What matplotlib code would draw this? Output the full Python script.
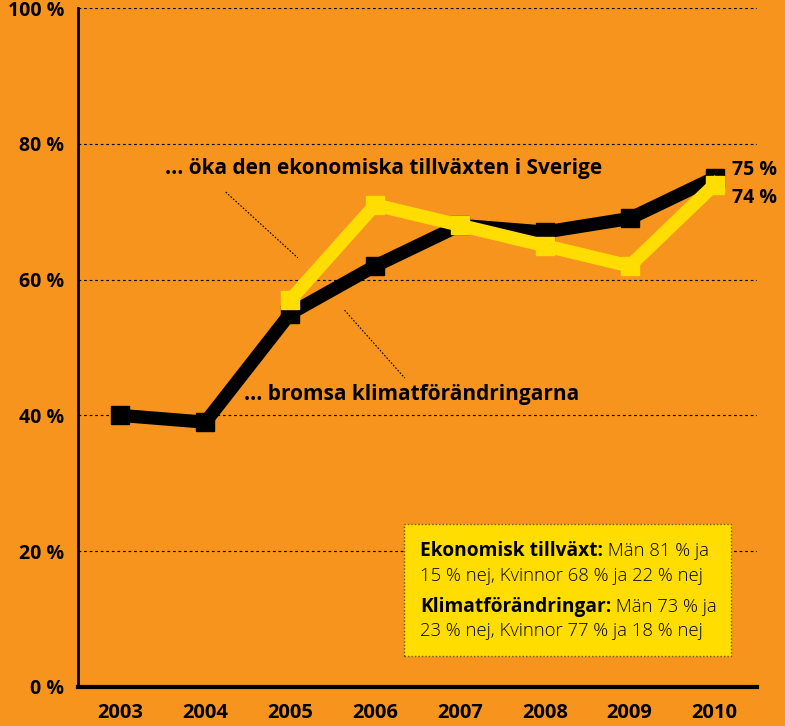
import matplotlib.pyplot as plt
from matplotlib.patches import Rectangle
from matplotlib.text import Annotation

years = [2003, 2004, 2005, 2006, 2007, 2008, 2009, 2010]
klimat = [40, 39, 55, 62, 68, 67, 69, 75]
ekonomi_years = [2005, 2006, 2007, 2008, 2009, 2010]
ekonomi = [57, 71, 68, 65, 62, 74]
yticks = [0, 20, 40, 60, 80, 100]

orange = "#F7941E"
yellow = "#FFDD00"
plt.rcParams['font.family'] = ['Open Sans', 'DejaVu Sans']

fig = plt.figure(figsize=(7.85, 7.26), dpi=100, facecolor=orange)
ax = fig.add_axes([78 / 785, 39 / 726, 679 / 785, 679 / 726])
ax.set_facecolor(orange)
ax.set_xlim(2002.5, 2010.5)
ax.set_ylim(0, 100)

for y in yticks[1:]:
    ax.axhline(y, color="black", lw=0.8, ls=(0, (2.5, 2.5)), zorder=1)

ax.plot(years, klimat, color="black", lw=9.5, marker="s", ms=13, zorder=3,
        solid_joinstyle="miter")
ax.plot(ekonomi_years, ekonomi, color=yellow, lw=9.5, marker="s", ms=13, zorder=4,
        solid_joinstyle="miter")

for s in ["top", "right"]:
    ax.spines[s].set_visible(False)
ax.spines["left"].set_linewidth(2)
ax.spines["bottom"].set_linewidth(3)
ax.set_xticks(years)
ax.set_xticklabels([str(y) for y in years], fontsize=14.5, fontweight="bold")
ax.set_yticks(yticks)
ax.set_yticklabels([f"{y} %" for y in yticks], fontsize=14, fontweight="bold")
ax.tick_params(length=0, pad=10)
ax.tick_params(axis="x", pad=11.5)

# series labels
ax.text(2003.52, 76.3, "... öka den ekonomiska tillväxten i Sverige", fontsize=15,
        fontweight="bold", va="center")
ax.plot([2004.24, 2005.09], [72.9, 63.2], color="black", lw=0.8, ls=(0, (1.5, 1.5)))
ax.text(2004.46, 43.1, "... bromsa klimatförändringarna", fontsize=15,
        fontweight="bold", va="center")
ax.plot([2005.64, 2006.35], [55.5, 45.5], color="black", lw=0.8, ls=(0, (1.5, 1.5)))

ax.text(2010.21, 76.1, "75 %", fontsize=14, fontweight="bold", va="center")
ax.text(2010.21, 72.0, "74 %", fontsize=14, fontweight="bold", va="center")

# info box
box = Rectangle((404 / 785, (726 - 656) / 726), 327 / 785, 132 / 726,
                transform=fig.transFigure, facecolor=yellow, edgecolor="#6b5a00",
                lw=1, ls=(0, (1, 1.5)), zorder=5)
fig.add_artist(box)
lines = [("Ekonomisk tillväxt:", " Män 81 % ja", 551),
         (None, "15 % nej, Kvinnor 68 % ja 22 % nej", 576),
         ("Klimatförändringar:", " Män 73 % ja", 607),
         (None, "23 % nej, Kvinnor 77 % ja 18 % nej", 631)]
for bold, rest, ypx in lines:
    x0, y0 = 420 / 785, (726 - ypx) / 726
    if bold:
        t = fig.text(x0, y0, bold, fontsize=13.8, fontweight="bold", va="center",
                     zorder=6)
        a = Annotation(rest, xy=(1, 0.5), xycoords=t, va="center", ha="left",
                       fontsize=13.3, fontweight="light", zorder=6)
        fig.add_artist(a)
    else:
        fig.text(x0, y0, rest, fontsize=13.3, fontweight="light", va="center",
                 zorder=6)

fig.savefig("out.png", dpi=100, facecolor=orange)
